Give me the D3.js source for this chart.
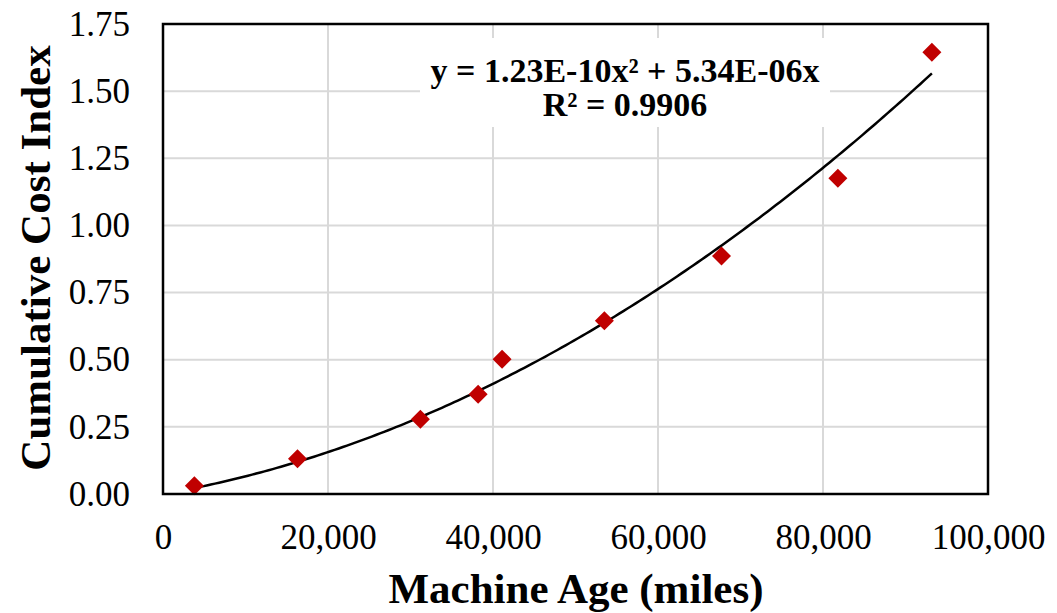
<!DOCTYPE html>
<html>
<head>
<meta charset="utf-8">
<script src="https://cdn.jsdelivr.net/npm/d3@7"></script>
<style>
  html, body { margin: 0; padding: 0; background: #fff; }
  svg { display: block; }
  text { font-family: "Liberation Serif", "Times New Roman", serif; fill: #000; }
</style>
</head>
<body>
<svg id="chart" width="1057" height="613"></svg>
<script>
// Machine age (miles) and cumulative cost index observations
const mileage = [3800, 16300, 31200, 38200, 41100, 53500, 67700, 81800, 93200];
const costIndex = [0.031, 0.131, 0.278, 0.371, 0.502, 0.645, 0.886, 1.176, 1.645];

// Polynomial (order 2, zero intercept) trendline coefficients
const coefA = 1.23e-10;
const coefB = 5.34e-06;
const rSquared = 0.9906;
const equationLines = ["y = 1.23E-10x² + 5.34E-06x", "R² = 0.9906"];

const xTicks = [0, 20000, 40000, 60000, 80000, 100000];
const yTicks = [0, 0.25, 0.5, 0.75, 1.0, 1.25, 1.5, 1.75];

const svg = d3.select("#chart");
const plot = { left: 163, right: 988, top: 24, bottom: 494 };

const x = d3.scaleLinear().domain([0, 100000]).range([plot.left, plot.right]);
const y = d3.scaleLinear().domain([0, 1.75]).range([plot.bottom, plot.top]);

// Gridlines
svg.append("g")
  .selectAll("line")
  .data(yTicks.slice(1))
  .join("line")
  .attr("x1", plot.left).attr("x2", plot.right)
  .attr("y1", d => y(d)).attr("y2", d => y(d))
  .attr("stroke", "#d9d9d9").attr("stroke-width", 2);

svg.append("g")
  .selectAll("line")
  .data(xTicks.slice(1, -1))
  .join("line")
  .attr("x1", d => x(d)).attr("x2", d => x(d))
  .attr("y1", plot.top).attr("y2", plot.bottom)
  .attr("stroke", "#d9d9d9").attr("stroke-width", 2);

// Axes (labels only, no tick marks)
const yAxis = d3.axisLeft(y).tickValues(yTicks).tickFormat(d3.format(".2f")).tickSize(0).tickPadding(33);
const gy = svg.append("g").attr("transform", `translate(${plot.left},0)`).call(yAxis);
gy.select(".domain").remove();
gy.attr("font-family", null).attr("font-size", null);
gy.selectAll("text").style("font-size", "35px");

const xAxis = d3.axisBottom(x).tickValues(xTicks).tickFormat(d3.format(",")).tickSize(0).tickPadding(30);
const gx = svg.append("g").attr("transform", `translate(0,${plot.bottom})`).call(xAxis);
gx.select(".domain").remove();
gx.attr("font-family", null).attr("font-size", null);
gx.selectAll("text").style("font-size", "35px");

// Trendline across the observed range
const xs = d3.range(mileage[0], mileage[mileage.length - 1], 500);
xs.push(mileage[mileage.length - 1]);
const line = d3.line()
  .x(d => x(d))
  .y(d => y(coefA * d * d + coefB * d));
svg.append("path")
  .datum(xs)
  .attr("d", line)
  .attr("fill", "none")
  .attr("stroke", "#000")
  .attr("stroke-width", 2.5);

// Diamond markers
const r = 9.5;
svg.append("g")
  .selectAll("path")
  .data(mileage.map((m, i) => [m, costIndex[i]]))
  .join("path")
  .attr("transform", d => `translate(${x(d[0])},${y(d[1])})`)
  .attr("d", `M0,${-r}L${r},0L0,${r}L${-r},0Z`)
  .attr("fill", "#c00000");

// Trendline equation label
const eq = svg.append("g");
eq.append("rect")
  .attr("x", 420).attr("y", 38).attr("width", 410).attr("height", 89)
  .attr("fill", "#fff");
eq.selectAll("text")
  .data(equationLines)
  .join("text")
  .attr("x", 625)
  .attr("y", (d, i) => 82 + i * 34)
  .attr("text-anchor", "middle")
  .style("font-size", "34px").style("font-weight", "bold")
  .text(d => d);

// Plot border
svg.append("rect")
  .attr("x", plot.left).attr("y", plot.top)
  .attr("width", plot.right - plot.left).attr("height", plot.bottom - plot.top)
  .attr("fill", "none").attr("stroke", "#000").attr("stroke-width", 2.5);

// Axis titles
svg.append("text")
  .attr("x", 576).attr("y", 603)
  .attr("text-anchor", "middle")
  .style("font-size", "43px").style("font-weight", "bold")
  .text("Machine Age (miles)");

svg.append("text")
  .attr("transform", "translate(50,258) rotate(-90)")
  .attr("text-anchor", "middle")
  .style("font-size", "43px").style("font-weight", "bold")
  .text("Cumulative Cost Index");
</script>
</body>
</html>
